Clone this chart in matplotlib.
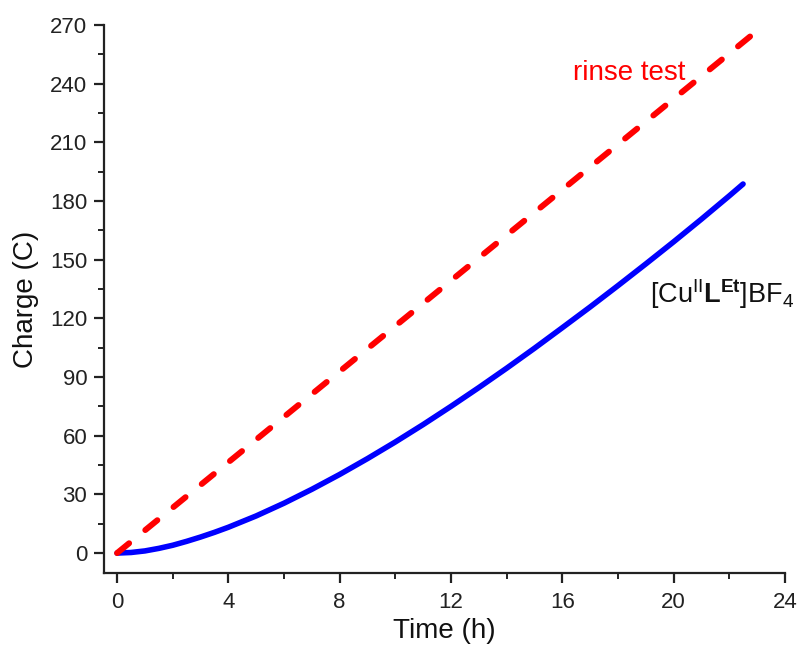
import numpy as np
import matplotlib
matplotlib.use("Agg")
import matplotlib.pyplot as plt
from matplotlib.ticker import MultipleLocator

plt.rcParams['font.family'] = ['Liberation Sans', 'DejaVu Sans']
plt.rcParams['mathtext.fontset'] = 'custom'
plt.rcParams['mathtext.rm'] = 'Liberation Sans'
plt.rcParams['mathtext.it'] = 'Liberation Sans:italic'
plt.rcParams['mathtext.bf'] = 'Liberation Sans:bold'

# rinse test (linear charge build-up)
t_rinse = [0, 23]
q_rinse = [0, 267]

# [Cu(II)L(Et)]BF4
t_cu = [0, 0.5, 1, 1.5, 2, 2.5, 3, 3.5, 4, 5, 6, 7, 8, 9, 10, 11, 12,
        13, 14, 15, 16, 17, 18, 19, 20, 21, 22, 22.5]
q_cu = [0, 0.3, 1.1, 2.4, 4, 6, 8.2, 10.6, 13.2, 19, 25.5, 32.6, 40.2, 48.3,
        56.8, 65.7, 75, 84.6, 94.5, 104.7, 115.2, 125.8, 136.7, 147.8, 159.1,
        170.7, 182.6, 188.7]

fig = plt.figure(figsize=(8, 6.48), dpi=100)
ax = fig.add_axes([0.13, 0.1157, 0.851, 0.8457])

ax.plot(t_cu, q_cu, color='#0000ff', linewidth=4.0, solid_capstyle='round',
        solid_joinstyle='round')
ax.plot(t_rinse, q_rinse, color='#ff0000', linewidth=4.3, dashes=(2.6, 3.5),
        dash_capstyle='round')

ax.set_xlim(-0.47, 24)
ax.set_ylim(-10.2, 270)
ax.xaxis.set_major_locator(MultipleLocator(4))
ax.xaxis.set_minor_locator(MultipleLocator(2))
ax.yaxis.set_major_locator(MultipleLocator(30))
ax.yaxis.set_minor_locator(MultipleLocator(15))

for s in ['top', 'right']:
    ax.spines[s].set_visible(False)
for s in ['left', 'bottom']:
    ax.spines[s].set_linewidth(1.6)
    ax.spines[s].set_color('#222222')

ax.tick_params(which='major', direction='out', length=7, width=1.6,
               labelsize=16, colors='#222222', pad=5)
ax.tick_params(axis='x', which='major', pad=7)
ax.tick_params(which='minor', direction='out', length=4, width=1.4,
               colors='#222222')

ax.set_xlabel('Time (h)', fontsize=20, labelpad=3, color='#111111')
ax.set_ylabel('Charge (C)', fontsize=20, labelpad=8, color='#111111')

ax.text(16.38, 241.8, 'rinse test', color='#ff0000', fontsize=20,
        va='baseline')
ax.text(19.15, 127.8, r'[Cu$^{\mathrm{II}}$$\mathbf{L}^{\mathbf{Et}}$]BF$_{4}$',
        color='#111111', fontsize=19.5, va='baseline')

fig.savefig('out.png', dpi=100)
